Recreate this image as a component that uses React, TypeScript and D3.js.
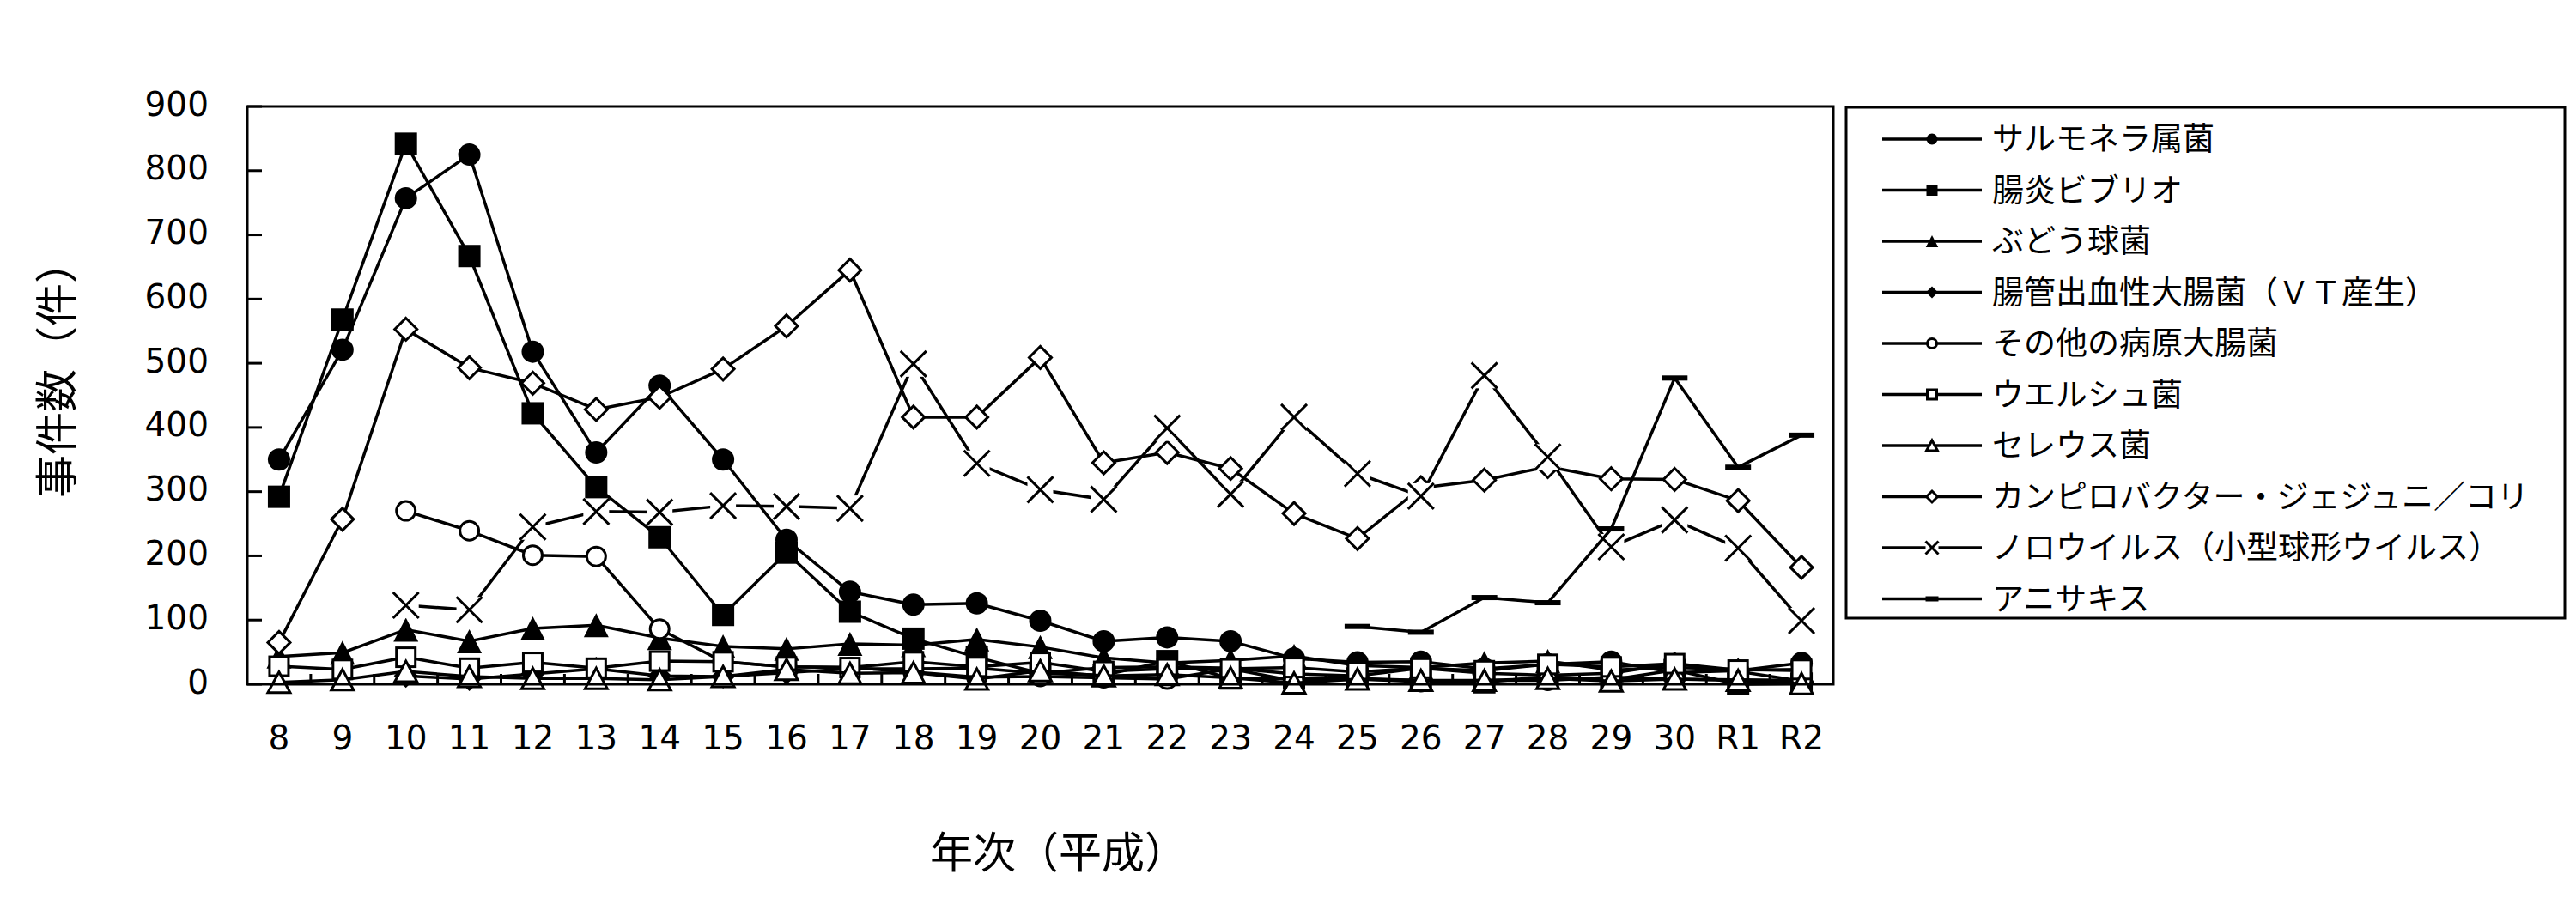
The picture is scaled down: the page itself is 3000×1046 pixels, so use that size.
import React from 'react';
import * as d3 from 'd3';

// ---------- data ----------
const categories = ['8','9','10','11','12','13','14','15','16','17','18','19','20','21','22','23','24','25','26','27','28','29','30','R1','R2'];
const yTicks = [0, 100, 200, 300, 400, 500, 600, 700, 800, 900];

const salmonella = [350, 521, 757, 825, 518, 361, 465, 350, 225, 144, 124, 126, 99, 67, 73, 67, 40, 34, 35, 24, 31, 35, 18, 21, 33];
const vibrio = [292, 568, 842, 667, 422, 307, 229, 108, 205, 113, 71, 42, 17, 14, 36, 9, 9, 9, 6, 3, 12, 7, 22, 0, 1];
const staph = [43, 49, 85, 67, 87, 92, 72, 59, 55, 63, 61, 70, 58, 41, 33, 37, 44, 29, 26, 33, 36, 22, 26, 23, 21];
const ehec = [null, null, 13, 8, 16, 24, 13, 12, 18, 24, 24, 25, 17, 26, 27, 25, 16, 13, 25, 17, 14, 17, 32, 20, 5];
const otherEcoli = [null, null, 270, 239, 201, 199, 86, 35, 27, 26, 19, 11, 12, 10, 8, 24, 5, 8, 4, 6, 6, 11, 8, 7, 6];
const welchii = [28, 23, 42, 25, 34, 25, 36, 35, 27, 26, 35, 27, 34, 20, 24, 24, 26, 19, 25, 21, 31, 27, 32, 22, 23];
const cereus = [3, 7, 20, 12, 9, 9, 7, 12, 23, 17, 18, 8, 21, 13, 15, 10, 2, 8, 6, 6, 9, 5, 8, 6, 1];
const campylobacter = [65, 257, 553, 493, 469, 428, 447, 491, 558, 645, 416, 416, 509, 345, 361, 336, 266, 227, 306, 318, 339, 320, 319, 286, 182];
const norovirus = [null, null, 123, 116, 245, 269, 268, 278, 277, 274, 499, 344, 303, 288, 399, 296, 416, 328, 293, 481, 354, 214, 256, 212, 99];
const anisakis = [null, null, null, null, null, null, null, null, null, null, null, null, null, null, null, null, null, 90, 81, 135, 127, 242, 477, 338, 388];

const seriesNames = [
  'サルモネラ属菌',
  '腸炎ビブリオ',
  'ぶどう球菌',
  '腸管出血性大腸菌（ＶＴ産生）',
  'その他の病原大腸菌',
  'ウエルシュ菌',
  'セレウス菌',
  'カンピロバクター・ジェジュニ／コリ',
  'ノロウイルス（小型球形ウイルス）',
  'アニサキス',
];
const seriesValues = [salmonella, vibrio, staph, ehec, otherEcoli, welchii, cereus, campylobacter, norovirus, anisakis];
const seriesMarkers = ['circleFilled', 'squareFilled', 'triangleFilled', 'diamondFilled', 'circleOpen', 'squareOpen', 'triangleOpen', 'diamondOpen', 'x', 'dash'];

const xTitle = '年次（平成）';
const yTitle = '事件数（件）';

// ---------- layout ----------
const W = 3000;
const H = 1046;
const plot = { left: 288, right: 2135, top: 124, bottom: 797 };
const legendBox = { left: 2150, right: 2987, top: 125, bottom: 720 };
const CJK = '"Noto Sans CJK JP", "Noto Sans", sans-serif';
const NUM = '"DejaVu Sans", sans-serif';
const LW = 3.5;

function Marker({ type, cx, cy, s }: { type: string; cx: number; cy: number; s: number }) {
  const sw = 3;
  switch (type) {
    case 'circleFilled':
      return <circle cx={cx} cy={cy} r={13 * s} fill="#000" />;
    case 'squareFilled':
      return <rect x={cx - 13 * s} y={cy - 13 * s} width={26 * s} height={26 * s} fill="#000" />;
    case 'triangleFilled': {
      const hw = 14.5 * s, hh = 14 * s;
      return <path d={`M${cx},${cy - hh}L${cx + hw},${cy + hh}L${cx - hw},${cy + hh}Z`} fill="#000" />;
    }
    case 'diamondFilled': {
      const r = 14 * s;
      return <path d={`M${cx},${cy - r}L${cx + r},${cy}L${cx},${cy + r}L${cx - r},${cy}Z`} fill="#000" />;
    }
    case 'circleOpen':
      return <circle cx={cx} cy={cy} r={11 * s} fill="#fff" stroke="#000" strokeWidth={sw} />;
    case 'squareOpen':
      return <rect x={cx - 11 * s} y={cy - 11 * s} width={22 * s} height={22 * s} fill="#fff" stroke="#000" strokeWidth={sw} />;
    case 'triangleOpen': {
      const hw = 13 * s, hh = 12 * s;
      return <path d={`M${cx},${cy - hh}L${cx + hw},${cy + hh}L${cx - hw},${cy + hh}Z`} fill="#fff" stroke="#000" strokeWidth={sw} strokeLinejoin="miter" />;
    }
    case 'diamondOpen': {
      const r = 13 * s;
      return <path d={`M${cx},${cy - r}L${cx + r},${cy}L${cx},${cy + r}L${cx - r},${cy}Z`} fill="#fff" stroke="#000" strokeWidth={sw} />;
    }
    case 'x': {
      const r = 15 * s;
      return (
        <g>
          <rect x={cx - r} y={cy - r} width={2 * r} height={2 * r} fill="#fff" />
          <path d={`M${cx - r},${cy - r}L${cx + r},${cy + r}M${cx + r},${cy - r}L${cx - r},${cy + r}`} stroke="#000" strokeWidth={sw} />
        </g>
      );
    }
    case 'dash':
      return <rect x={cx - 15 * s} y={cy - 3} width={30 * s} height={6} fill="#000" />;
    default:
      return null;
  }
}

export default function App() {
  const x = d3.scaleBand<string>().domain(categories).range([plot.left, plot.right]).padding(0);
  const bw = x.bandwidth();
  const cxOf = (c: string) => (x(c) as number) + bw / 2;
  const y = d3.scaleLinear().domain([0, 900]).range([plot.bottom, plot.top]);

  const line = d3
    .line<[string, number | null]>()
    .defined((d) => d[1] !== null && d[1] !== undefined)
    .x((d) => cxOf(d[0]))
    .y((d) => y(d[1] as number));

  const legendRowY = (i: number) => 162 + i * 59.5;

  return (
    <div style={{ position: 'absolute', left: 0, top: 0 }}>
      <svg width={W} height={H} viewBox={`0 0 ${W} ${H}`} style={{ display: 'block', background: '#fff' }}>
        <rect x={0} y={0} width={W} height={H} fill="#fff" />

        {/* y ticks inside */}
        {yTicks.map((t) => (
          <line key={'yt' + t} x1={plot.left} x2={plot.left + 17} y1={y(t)} y2={y(t)} stroke="#000" strokeWidth={3} />
        ))}
        {/* x ticks at category boundaries */}
        {categories.slice(1).map((c) => (
          <line key={'xt' + c} x1={x(c) as number} x2={x(c) as number} y1={plot.bottom} y2={plot.bottom - 12} stroke="#000" strokeWidth={3} />
        ))}

        {/* series */}
        {seriesValues.map((vals, si) => {
          const pts: [string, number | null][] = categories.map((c, i) => [c, vals[i] as number | null]);
          return (
            <g key={'s' + si}>
              <path d={line(pts) || ''} fill="none" stroke="#000" strokeWidth={LW} strokeLinejoin="round" />
              {pts
                .filter((p) => p[1] !== null && p[1] !== undefined)
                .map((p) => (
                  <Marker key={p[0]} type={seriesMarkers[si]} cx={cxOf(p[0])} cy={y(p[1] as number)} s={1} />
                ))}
            </g>
          );
        })}

        {/* frame */}
        <rect x={plot.left} y={plot.top} width={plot.right - plot.left} height={plot.bottom - plot.top} fill="none" stroke="#000" strokeWidth={3} />

        {/* y tick labels */}
        {yTicks.map((t) => (
          <text key={'yl' + t} x={243} y={y(t) - 3} textAnchor="end" dominantBaseline="central" fontFamily={NUM} fontSize={39} fill="#000">
            {t}
          </text>
        ))}
        {/* x tick labels */}
        {categories.map((c) => (
          <text key={'xl' + c} x={cxOf(c)} y={859} textAnchor="middle" dominantBaseline="central" fontFamily={NUM} fontSize={39} fill="#000">
            {c}
          </text>
        ))}

        {/* axis titles */}
        <text x={1233} y={989} textAnchor="middle" dominantBaseline="central" fontFamily={CJK} fontSize={50} fill="#000">
          {xTitle}
        </text>
        <text transform="translate(62,430) rotate(-90)" textAnchor="middle" dominantBaseline="central" fontFamily={CJK} fontSize={50} fill="#000">
          {yTitle}
        </text>

        {/* legend */}
        <rect x={legendBox.left} y={legendBox.top} width={legendBox.right - legendBox.left} height={legendBox.bottom - legendBox.top} fill="#fff" stroke="#000" strokeWidth={3} />
        {seriesNames.map((name, i) => {
          const ly = legendRowY(i);
          return (
            <g key={'lg' + i}>
              <line x1={2192} x2={2308} y1={ly} y2={ly} stroke="#000" strokeWidth={LW} />
              <Marker type={seriesMarkers[i]} cx={2250} cy={ly} s={0.5} />
              <text x={2320} y={ly - 3} dominantBaseline="central" fontFamily={CJK} fontSize={37} fill="#000">
                {name}
              </text>
            </g>
          );
        })}
      </svg>
    </div>
  );
}
